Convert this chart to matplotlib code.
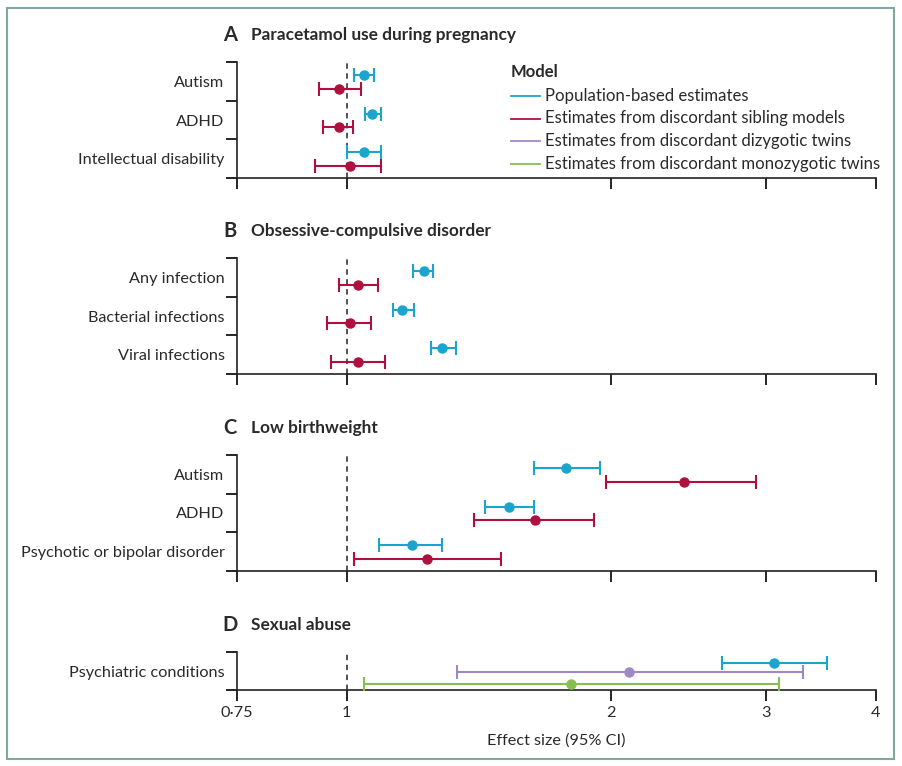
import matplotlib
matplotlib.use("Agg")
import matplotlib.pyplot as plt
from matplotlib.lines import Line2D
from matplotlib.patches import Rectangle
import numpy as np

plt.rcParams['font.family'] = ['Lato', 'DejaVu Sans']

# ---------------- data ----------------
a_cats = ["Autism", "ADHD", "Intellectual disability"]
a_pop = [1.047, 1.067, 1.047]
a_pop_lo = [1.019, 1.048, 1.000]
a_pop_hi = [1.074, 1.095, 1.094]
a_sib = [0.979, 0.979, 1.008]
a_sib_lo = [0.930, 0.940, 0.920]
a_sib_hi = [1.037, 1.017, 1.094]

b_cats = ["Any infection", "Bacterial infections", "Viral infections"]
b_pop = [1.225, 1.155, 1.284]
b_pop_lo = [1.189, 1.128, 1.246]
b_pop_hi = [1.254, 1.194, 1.332]
b_sib = [1.029, 1.008, 1.029]
b_sib_lo = [0.980, 0.950, 0.960]
b_sib_hi = [1.086, 1.066, 1.105]

c_cats = ["Autism", "ADHD", "Psychotic or bipolar disorder"]
c_pop = [1.775, 1.530, 1.186]
c_pop_lo = [1.632, 1.435, 1.089]
c_pop_hi = [1.939, 1.635, 1.282]
c_sib = [2.420, 1.638, 1.235]
c_sib_lo = [1.972, 1.395, 1.020]
c_sib_hi = [2.918, 1.909, 1.498]

d_cats = ["Psychiatric conditions"]
d_pop = [3.06]
d_pop_lo = [2.67]
d_pop_hi = [3.52]
d_dz = [2.096]
d_dz_lo = [1.333]
d_dz_hi = [3.300]
d_mz = [1.797]
d_mz_lo = [1.046]
d_mz_hi = [3.100]

xticks = [0.75, 1, 2, 3, 4]
xtick_labels = ["0·75", "1", "2", "3", "4"]

model_names = ["Population-based estimates",
               "Estimates from discordant sibling models",
               "Estimates from discordant dizygotic twins",
               "Estimates from discordant monozygotic twins"]

BLUE = "#1ba5cc"
RED = "#b0103f"
PURPLE = "#a088c4"
GREEN = "#86bf4f"
TXT = "#2a2a2a"

W, H = 902, 766
fig = plt.figure(figsize=(W / 100, H / 100), dpi=100)

def add_ax(top, bottom):
    return fig.add_axes([237 / W, 1 - bottom / H, (876 - 237) / W, (bottom - top) / H])

def draw_series(ax, y, v, lo, hi, color):
    v = np.array(v); lo = np.array(lo); hi = np.array(hi)
    ax.errorbar(v, y, xerr=[v - lo, hi - v], fmt='o', color=color, ms=6.5,
                elinewidth=1.5, capsize=5, capthick=1.5, zorder=3)

def style_ax(ax, cats, show_xlabels=False):
    n = len(cats)
    ax.set_xscale('log')
    ax.set_xlim(0.75, 4)
    ax.set_ylim(n, 0)
    ax.axvline(1, color="#444444", lw=1.3, ls=(0, (3, 2.5)), zorder=1)
    for s in ['top', 'right']:
        ax.spines[s].set_visible(False)
    for s in ['left', 'bottom']:
        ax.spines[s].set_linewidth(1.2)
        ax.spines[s].set_color("#222222")
    ax.set_yticks(np.arange(n + 1))
    ax.set_yticklabels([])
    ax.set_yticks(np.arange(n) + 0.5, minor=True)
    ax.set_yticklabels(cats, minor=True, fontsize=11.7, color=TXT)
    ax.tick_params(axis='y', which='major', length=8, width=1.2, direction='out')
    ax.tick_params(axis='y', which='minor', length=0, pad=9)
    ax.set_xticks(xticks)
    ax.xaxis.set_minor_locator(matplotlib.ticker.NullLocator())
    ax.tick_params(axis='x', which='major', length=8, width=1.2, direction='out')
    if show_xlabels:
        ax.set_xticklabels(xtick_labels, fontsize=11.7, color=TXT)
    else:
        ax.set_xticklabels([])
    ax.patch.set_alpha(0)

def panel_title(top, letter, title):
    y = 1 - (top - 27) / H
    fig.text(230 / W, y, letter, fontsize=14.5, fontweight='bold', ha='center', va='center', color=TXT)
    fig.text(251 / W, y, title, fontsize=12.4, fontweight='bold', ha='left', va='center', color=TXT)

# Panel A
axA = add_ax(62, 178)
style_ax(axA, a_cats)
yb = np.arange(3)
draw_series(axA, yb + 0.34, a_pop, a_pop_lo, a_pop_hi, BLUE)
draw_series(axA, yb + 0.69, a_sib, a_sib_lo, a_sib_hi, RED)
panel_title(62, "A", "Paracetamol use during pregnancy")

# Panel B
axB = add_ax(258, 374)
style_ax(axB, b_cats)
draw_series(axB, yb + 0.34, b_pop, b_pop_lo, b_pop_hi, BLUE)
draw_series(axB, yb + 0.69, b_sib, b_sib_lo, b_sib_hi, RED)
panel_title(258, "B", "Obsessive-compulsive disorder")

# Panel C
axC = add_ax(455, 571)
style_ax(axC, c_cats)
draw_series(axC, yb + 0.34, c_pop, c_pop_lo, c_pop_hi, BLUE)
draw_series(axC, yb + 0.69, c_sib, c_sib_lo, c_sib_hi, RED)
panel_title(455, "C", "Low birthweight")

# Panel D
axD = add_ax(652, 690)
style_ax(axD, d_cats, show_xlabels=True)
draw_series(axD, [0.3], d_pop, d_pop_lo, d_pop_hi, BLUE)
draw_series(axD, [0.52], d_dz, d_dz_lo, d_dz_hi, PURPLE)
draw_series(axD, [0.83], d_mz, d_mz_lo, d_mz_hi, GREEN)
panel_title(652, "D", "Sexual abuse")
axD.set_xlabel("Effect size (95% CI)", fontsize=11.7, color=TXT, labelpad=10)

# Legend
fig.text(511 / W, 1 - 72 / H, "Model", fontsize=12, fontweight='bold', ha='left', va='center', color=TXT)
leg_colors = [BLUE, RED, PURPLE, GREEN]
for i, (name, c) in enumerate(zip(model_names, leg_colors)):
    y = 96 + i * 22.5
    fig.add_artist(Line2D([511 / W, 540 / W], [1 - y / H, 1 - y / H], color=c, lw=1.3))
    fig.text(545 / W, 1 - y / H, name, fontsize=12.1, ha='left', va='center', color=TXT)

# Frame
fig.add_artist(Rectangle((7 / W, 1 - 759 / H), (894 - 7) / W, (759 - 8) / H,
                         fill=False, edgecolor="#7fa9a0", lw=1.5, transform=fig.transFigure))

fig.savefig("out.png", dpi=100)
